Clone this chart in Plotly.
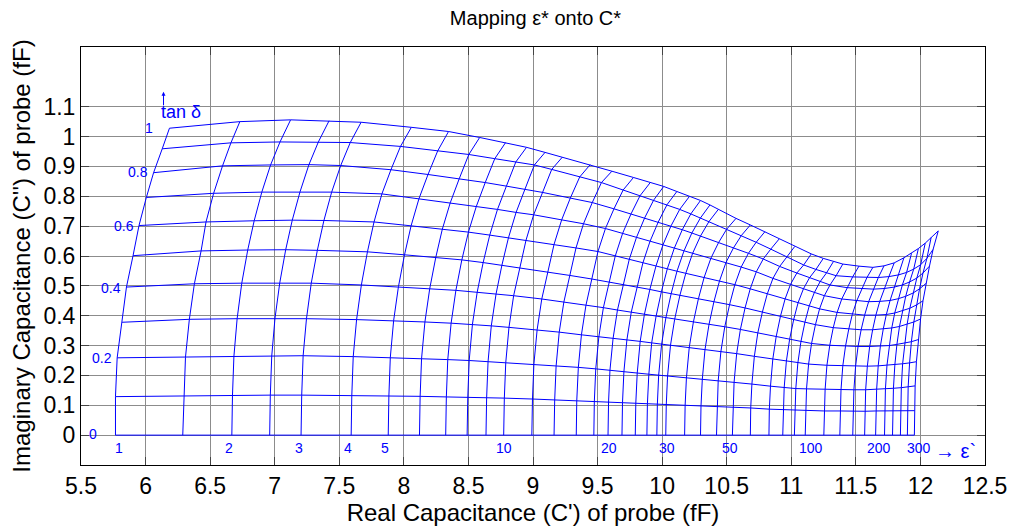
import plotly.graph_objects as go

# Grid of the mapping: for every eps' line, C' and C'' (fF) at tan(delta) = 0, 0.1, ..., 1.0
tan_vals = [0, 0.1, 0.2, 0.3, 0.4, 0.5, 0.6, 0.7, 0.8, 0.9, 1.0]
eps_vals = [1, 1.5, 2, 2.5, 3, 4, 5, 6, 7, 8, 9, 10, 12, 14, 16, 18, 20, 22, 24, 26, 28, 30,
            35, 40, 45, 50, 60, 70, 80, 90, 100, 120, 140, 160, 180, 200, 220, 240, 260, 280, 300]

c_real = [
    [5.767, 5.767, 5.780, 5.818, 5.852, 5.903, 5.949, 6.006, 6.062, 6.129, 6.185],
    [6.288, 6.296, 6.309, 6.339, 6.378, 6.430, 6.468, 6.527, 6.596, 6.661, 6.730],
    [6.668, 6.673, 6.684, 6.709, 6.745, 6.791, 6.841, 6.900, 6.968, 7.041, 7.123],
    [6.961, 6.966, 6.977, 7.002, 7.039, 7.085, 7.136, 7.196, 7.265, 7.338, 7.421],
    [7.204, 7.209, 7.220, 7.246, 7.283, 7.330, 7.381, 7.441, 7.511, 7.585, 7.669],
    [7.592, 7.597, 7.608, 7.634, 7.671, 7.718, 7.769, 7.830, 7.900, 7.974, 8.058],
    [7.879, 7.884, 7.895, 7.921, 7.958, 8.005, 8.056, 8.117, 8.187, 8.262, 8.346],
    [8.121, 8.126, 8.137, 8.163, 8.200, 8.247, 8.298, 8.359, 8.429, 8.503, 8.587],
    [8.324, 8.329, 8.340, 8.366, 8.403, 8.449, 8.500, 8.561, 8.630, 8.704, 8.788],
    [8.490, 8.495, 8.506, 8.531, 8.568, 8.614, 8.665, 8.725, 8.794, 8.867, 8.950],
    [8.636, 8.641, 8.652, 8.677, 8.714, 8.759, 8.810, 8.869, 8.938, 9.011, 9.093],
    [8.773, 8.778, 8.789, 8.814, 8.850, 8.896, 8.946, 9.005, 9.073, 9.145, 9.227],
    [8.991, 8.996, 9.007, 9.032, 9.068, 9.113, 9.163, 9.222, 9.289, 9.362, 9.443],
    [9.163, 9.168, 9.179, 9.203, 9.239, 9.284, 9.333, 9.391, 9.459, 9.530, 9.611],
    [9.335, 9.339, 9.351, 9.375, 9.410, 9.455, 9.503, 9.561, 9.627, 9.698, 9.778],
    [9.471, 9.475, 9.486, 9.510, 9.545, 9.589, 9.637, 9.694, 9.759, 9.829, 9.908],
    [9.581, 9.585, 9.596, 9.620, 9.654, 9.697, 9.745, 9.801, 9.865, 9.934, 10.012],
    [9.689, 9.693, 9.704, 9.727, 9.761, 9.804, 9.851, 9.906, 9.970, 10.038, 10.114],
    [9.792, 9.796, 9.807, 9.830, 9.863, 9.905, 9.952, 10.006, 10.069, 10.136, 10.212],
    [9.882, 9.886, 9.897, 9.919, 9.953, 9.994, 10.040, 10.094, 10.156, 10.222, 10.297],
    [9.959, 9.963, 9.973, 9.996, 10.029, 10.070, 10.115, 10.169, 10.230, 10.296, 10.370],
    [10.028, 10.032, 10.042, 10.065, 10.097, 10.138, 10.183, 10.236, 10.297, 10.362, 10.435],
    [10.174, 10.178, 10.188, 10.210, 10.242, 10.281, 10.325, 10.377, 10.437, 10.500, 10.572],
    [10.297, 10.301, 10.311, 10.332, 10.363, 10.401, 10.444, 10.494, 10.552, 10.614, 10.683],
    [10.421, 10.425, 10.434, 10.455, 10.485, 10.522, 10.563, 10.612, 10.668, 10.728, 10.795],
    [10.544, 10.548, 10.557, 10.577, 10.606, 10.642, 10.682, 10.729, 10.783, 10.841, 10.906],
    [10.683, 10.686, 10.695, 10.714, 10.741, 10.776, 10.814, 10.858, 10.910, 10.965, 11.027],
    [10.827, 10.830, 10.839, 10.857, 10.883, 10.916, 10.952, 10.994, 11.043, 11.096, 11.155],
    [10.934, 10.937, 10.945, 10.962, 10.987, 11.019, 11.053, 11.094, 11.141, 11.191, 11.248],
    [11.024, 11.027, 11.035, 11.051, 11.075, 11.106, 11.139, 11.178, 11.223, 11.272, 11.326],
    [11.108, 11.111, 11.118, 11.134, 11.157, 11.187, 11.219, 11.256, 11.300, 11.347, 11.399],
    [11.252, 11.255, 11.262, 11.276, 11.298, 11.325, 11.355, 11.391, 11.432, 11.475, 11.524],
    [11.376, 11.379, 11.385, 11.399, 11.420, 11.445, 11.473, 11.507, 11.545, 11.586, 11.632],
    [11.476, 11.478, 11.485, 11.498, 11.517, 11.541, 11.568, 11.599, 11.636, 11.674, 11.718],
    [11.568, 11.570, 11.576, 11.589, 11.607, 11.630, 11.655, 11.685, 11.719, 11.756, 11.797],
    [11.653, 11.655, 11.661, 11.673, 11.690, 11.712, 11.736, 11.765, 11.798, 11.833, 11.872],
    [11.722, 11.724, 11.729, 11.741, 11.758, 11.778, 11.801, 11.829, 11.860, 11.893, 11.931],
    [11.784, 11.786, 11.791, 11.802, 11.818, 11.838, 11.860, 11.886, 11.916, 11.948, 11.984],
    [11.845, 11.847, 11.852, 11.862, 11.878, 11.897, 11.918, 11.943, 11.972, 12.002, 12.037],
    [11.899, 11.901, 11.905, 11.916, 11.930, 11.949, 11.969, 11.993, 12.020, 12.050, 12.083],
    [11.953, 11.955, 11.959, 11.969, 11.983, 12.001, 12.020, 12.043, 12.070, 12.098, 12.138],
]
c_imag = [
    [0, 0.129, 0.259, 0.378, 0.496, 0.601, 0.702, 0.796, 0.879, 0.959, 1.028],
    [0, 0.132, 0.261, 0.388, 0.507, 0.617, 0.714, 0.810, 0.902, 0.979, 1.050],
    [0, 0.133, 0.264, 0.390, 0.509, 0.620, 0.718, 0.814, 0.905, 0.982, 1.056],
    [0, 0.134, 0.265, 0.391, 0.510, 0.621, 0.720, 0.815, 0.906, 0.982, 1.053],
    [0, 0.134, 0.266, 0.390, 0.509, 0.619, 0.719, 0.814, 0.903, 0.980, 1.048],
    [0, 0.133, 0.263, 0.387, 0.503, 0.614, 0.714, 0.808, 0.889, 0.967, 1.031],
    [0, 0.131, 0.260, 0.384, 0.497, 0.604, 0.701, 0.792, 0.873, 0.952, 1.017],
    [0, 0.130, 0.256, 0.379, 0.490, 0.595, 0.690, 0.778, 0.859, 0.940, 0.997],
    [0, 0.128, 0.253, 0.375, 0.485, 0.587, 0.680, 0.766, 0.846, 0.926, 0.980],
    [0, 0.127, 0.250, 0.371, 0.479, 0.578, 0.670, 0.756, 0.834, 0.915, 0.964],
    [0, 0.125, 0.246, 0.366, 0.473, 0.569, 0.661, 0.746, 0.824, 0.905, 0.947],
    [0, 0.124, 0.243, 0.361, 0.467, 0.561, 0.653, 0.738, 0.813, 0.890, 0.931],
    [0, 0.121, 0.238, 0.353, 0.456, 0.547, 0.639, 0.721, 0.794, 0.865, 0.906],
    [0, 0.118, 0.232, 0.345, 0.446, 0.535, 0.627, 0.708, 0.779, 0.846, 0.884],
    [0, 0.116, 0.227, 0.336, 0.435, 0.523, 0.615, 0.692, 0.758, 0.821, 0.863],
    [0, 0.113, 0.222, 0.330, 0.427, 0.513, 0.600, 0.676, 0.741, 0.802, 0.846],
    [0, 0.111, 0.218, 0.324, 0.419, 0.504, 0.588, 0.662, 0.728, 0.787, 0.833],
    [0, 0.109, 0.213, 0.319, 0.412, 0.496, 0.577, 0.649, 0.714, 0.772, 0.816],
    [0, 0.107, 0.208, 0.314, 0.405, 0.488, 0.566, 0.637, 0.701, 0.756, 0.800],
    [0, 0.105, 0.204, 0.309, 0.398, 0.480, 0.557, 0.626, 0.688, 0.741, 0.786],
    [0, 0.104, 0.201, 0.305, 0.393, 0.474, 0.549, 0.617, 0.677, 0.727, 0.771],
    [0, 0.102, 0.198, 0.302, 0.388, 0.469, 0.542, 0.609, 0.667, 0.715, 0.756],
    [0, 0.100, 0.191, 0.294, 0.379, 0.457, 0.528, 0.592, 0.645, 0.690, 0.726],
    [0, 0.098, 0.187, 0.287, 0.371, 0.447, 0.516, 0.578, 0.627, 0.669, 0.704],
    [0, 0.096, 0.182, 0.280, 0.363, 0.437, 0.504, 0.563, 0.609, 0.646, 0.681],
    [0, 0.094, 0.177, 0.273, 0.354, 0.426, 0.490, 0.547, 0.590, 0.623, 0.657],
    [0, 0.091, 0.171, 0.264, 0.343, 0.412, 0.473, 0.525, 0.565, 0.597, 0.632],
    [0, 0.087, 0.164, 0.255, 0.330, 0.398, 0.456, 0.505, 0.543, 0.570, 0.607],
    [0, 0.085, 0.159, 0.248, 0.321, 0.388, 0.444, 0.490, 0.527, 0.555, 0.592],
    [0, 0.083, 0.156, 0.242, 0.314, 0.379, 0.433, 0.477, 0.514, 0.543, 0.581],
    [0, 0.082, 0.155, 0.238, 0.307, 0.370, 0.423, 0.467, 0.503, 0.534, 0.573],
    [0, 0.081, 0.153, 0.234, 0.301, 0.360, 0.411, 0.456, 0.494, 0.530, 0.566],
    [0, 0.081, 0.152, 0.232, 0.298, 0.355, 0.405, 0.450, 0.490, 0.528, 0.562],
    [0, 0.080, 0.152, 0.231, 0.297, 0.353, 0.402, 0.447, 0.489, 0.528, 0.567],
    [0, 0.080, 0.152, 0.231, 0.297, 0.353, 0.402, 0.448, 0.491, 0.531, 0.577],
    [0, 0.081, 0.153, 0.232, 0.298, 0.355, 0.404, 0.451, 0.496, 0.537, 0.594],
    [0, 0.081, 0.155, 0.234, 0.300, 0.359, 0.409, 0.457, 0.503, 0.545, 0.609],
    [0, 0.081, 0.157, 0.236, 0.304, 0.364, 0.416, 0.465, 0.513, 0.556, 0.625],
    [0, 0.082, 0.159, 0.239, 0.308, 0.371, 0.425, 0.476, 0.526, 0.571, 0.643],
    [0, 0.082, 0.162, 0.242, 0.313, 0.379, 0.436, 0.490, 0.543, 0.592, 0.662],
    [0, 0.082, 0.165, 0.246, 0.320, 0.389, 0.450, 0.508, 0.566, 0.622, 0.684],
]

tan_labels = ["0", "0.2", "0.4", "0.6", "0.8", "1"]
tan_lab_x = [5.592, 5.662, 5.731, 5.831, 5.939, 6.024]
tan_lab_y = [0.003, 0.258, 0.493, 0.701, 0.880, 1.029]
eps_labels = ["1", "2", "3", "4", "5", "10", "20", "30", "50", "100", "200", "300"]
eps_lab_x = [5.793, 6.647, 7.186, 7.571, 7.854, 8.778, 9.587, 10.036, 10.523, 11.152, 11.678, 11.986]

BLUE = "#0000ff"
fig = go.Figure()

# constant eps' lines
vx, vy = [], []
for xs, ys in zip(c_real, c_imag):
    vx += xs + [None]
    vy += ys + [None]
fig.add_trace(go.Scatter(x=vx, y=vy, mode="lines", line=dict(color=BLUE, width=1),
                         showlegend=False, hoverinfo="skip", connectgaps=False))
# constant tan(delta) curves
hx, hy = [], []
for i in range(len(tan_vals)):
    hx += [row[i] for row in c_real] + [None]
    hy += [row[i] for row in c_imag] + [None]
fig.add_trace(go.Scatter(x=hx, y=hy, mode="lines", line=dict(color=BLUE, width=1),
                         showlegend=False, hoverinfo="skip", connectgaps=False))

ann = []
for t, x, y in zip(tan_labels, tan_lab_x, tan_lab_y):
    ann.append(dict(x=x, y=y, text=t, showarrow=False, font=dict(size=14, color=BLUE), xanchor="center", yanchor="middle"))
for t, x in zip(eps_labels, eps_lab_x):
    ann.append(dict(x=x, y=-0.044, text=t, showarrow=False, font=dict(size=14, color=BLUE), xanchor="center", yanchor="middle"))
ann.append(dict(x=12.275, y=-0.054, text="\u2192 \u03b5`", showarrow=False, font=dict(size=20, color=BLUE), xanchor="center", yanchor="middle"))
ann.append(dict(x=6.275, y=1.081, text="tan \u03b4", showarrow=False, font=dict(size=18, color=BLUE), xanchor="center", yanchor="middle"))
# small upward arrow above "tan"
ann.append(dict(x=6.139, y=1.150, text="", showarrow=True, ax=0, ay=15, axref="pixel", ayref="pixel",
                arrowhead=2, arrowsize=0.8, arrowwidth=1, arrowcolor=BLUE, standoff=0, startstandoff=0))

FONT = "Liberation Sans, Arial, sans-serif"
xt = [5.5 + 0.5 * i for i in range(15)]
yt = [round(0.1 * i, 1) for i in range(12)]
fig.update_layout(
    width=1019, height=531,
    margin=dict(l=81, r=29, t=47, b=61),
    paper_bgcolor="white", plot_bgcolor="white",
    font=dict(family=FONT, color="black"),
    title=dict(text="Mapping \u03b5* onto C*", x=0.5255, xanchor="center", y=0.966, yanchor="middle", font=dict(size=20)),
    annotations=ann,
    xaxis=dict(range=[5.5, 12.5], tickvals=xt, ticktext=[f"{v:g}" for v in xt], ticks="inside", ticklen=8,
               showgrid=True, gridcolor="#8c8c8c", gridwidth=1, zeroline=False, showline=True, linecolor="black",
               linewidth=1, mirror="allticks", tickfont=dict(size=23),
               title=dict(text="Real Capacitance (C') of probe (fF)", font=dict(size=24), standoff=4)),
    yaxis=dict(range=[-0.1, 1.3], tickvals=yt, ticktext=[f"{v:g}" for v in yt], ticks="inside", ticklen=8,
               showgrid=True, gridcolor="#8c8c8c", gridwidth=1, zeroline=False, showline=True, linecolor="black",
               linewidth=1, mirror="allticks", tickfont=dict(size=23),
               title=dict(text="Imaginary Capacitance (C'') of probe (fF)", font=dict(size=24), standoff=6)),
)
fig.write_html("out.html")
